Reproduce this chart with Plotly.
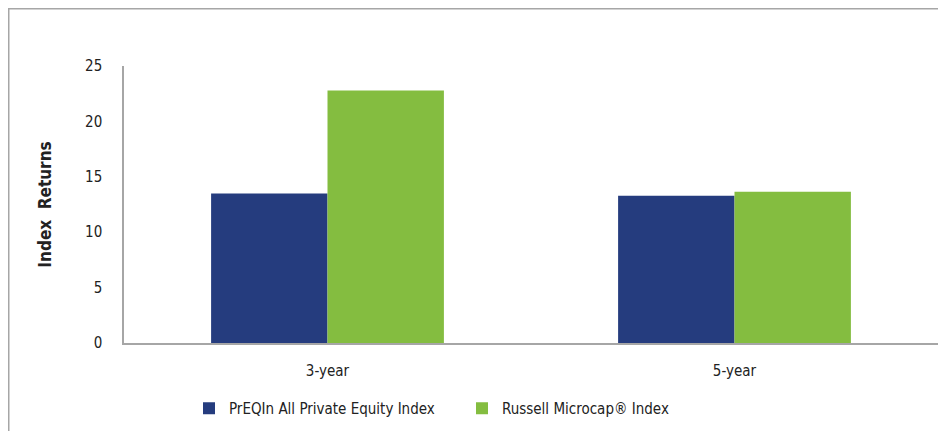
import plotly.graph_objects as go

categories = ["3-year", "5-year"]
preqin = [13.5, 13.3]
russell = [22.8, 13.65]
series_names = ["PrEQIn All Private Equity Index", "Russell Microcap® Index"]
y_ticks = [0, 5, 10, 15, 20, 25]

FONT = "Liberation Sans Narrow, DejaVu Sans Condensed, Arial Narrow, sans-serif"

fig = go.Figure()
fig.add_trace(go.Bar(x=categories, y=preqin, name=series_names[0],
                     marker=dict(color="#253C7E", line=dict(width=0))))
fig.add_trace(go.Bar(x=categories, y=russell, name=series_names[1],
                     marker=dict(color="#84BD40", line=dict(width=0))))

# page has an 8px body margin; figure coordinates below are relative to the figure
W, H = 930, 423
L, R, T, B = 116, 0, 58, 88
pw, ph = W - L - R, H - T - B

def px2x(p):
    return (p - L) / pw

def py2y(p):
    return (H - B - p) / ph

fig.update_layout(
    width=W, height=H,
    margin=dict(l=L, r=R, t=T, b=B),
    paper_bgcolor="white", plot_bgcolor="white",
    font=dict(family=FONT, size=15, color="#222222"),
    barmode="group", bargap=0.428, bargroupgap=0,
    showlegend=True,
    legend=dict(orientation="h", x=px2x(181), xanchor="left", y=py2y(384), yanchor="top",
                entrywidth=228, entrywidthmode="pixels",
                font=dict(family=FONT, size=15, color="#222222"),
                itemclick=False),
    xaxis=dict(showline=True, linecolor="#A6A6A6", linewidth=1.5, showgrid=False,
               ticks="", ticklabelstandoff=13, tickfont=dict(size=15)),
    yaxis=dict(range=[0, 25], tickvals=y_ticks, showline=True, linecolor="#A6A6A6",
               linewidth=1.5, showgrid=False, zeroline=False, ticks="",
               ticklabelstandoff=17, tickfont=dict(size=15),
               title=dict(text="<b>Index  Returns</b>", font=dict(size=17), standoff=29)),
    shapes=[dict(type="rect", xref="paper", yref="paper",
                 x0=px2x(0.75), x1=px2x(960), y0=py2y(460), y1=py2y(0.75),
                 line=dict(color="#A6A6A6", width=1.5), fillcolor="rgba(0,0,0,0)",
                 layer="below")],
)

fig.write_html("out.html")
